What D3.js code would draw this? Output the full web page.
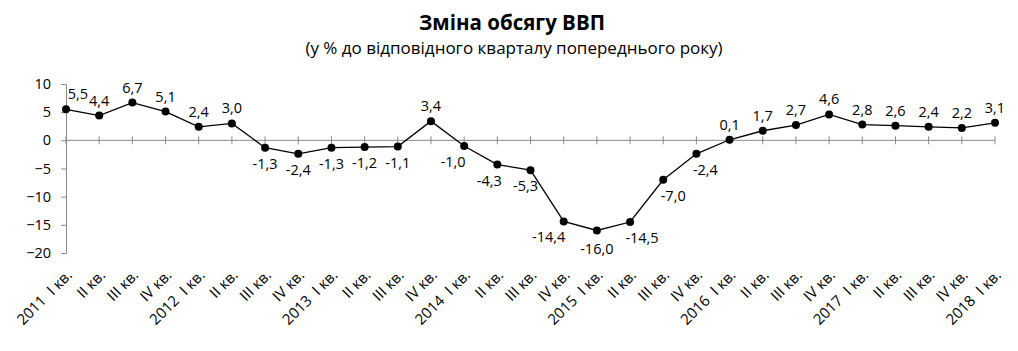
<!DOCTYPE html>
<html lang="uk">
<head>
<meta charset="UTF-8">
<script src="https://d3js.org/d3.v7.min.js"></script>
<style>
  body { margin: 0; background: #fff; }
  text { font-family: "Open Sans", sans-serif; fill: #000; }
  .cat { white-space: pre; }
</style>
</head>
<body>
<svg width="1018" height="351"></svg>
<script>
// quarters 2011 Q1 .. 2018 Q1
const quarters = ["2011  I кв.", "II кв.", "III кв.", "IV кв.",
  "2012  I кв.", "II кв.", "III кв.", "IV кв.",
  "2013  I кв.", "II кв.", "III кв.", "IV кв.",
  "2014  I кв.", "II кв.", "III кв.", "IV кв.",
  "2015  I кв.", "II кв.", "III кв.", "IV кв.",
  "2016  I кв.", "II кв.", "III кв.", "IV кв.",
  "2017  I кв.", "II кв.", "III кв.", "IV кв.",
  "2018  I кв."];
const gdpChange = [5.5, 4.4, 6.7, 5.1, 2.4, 3.0, -1.3, -2.4, -1.3, -1.2, -1.1, 3.4,
  -1.0, -4.3, -5.3, -14.4, -16.0, -14.5, -7.0, -2.4, 0.1, 1.7, 2.7, 4.6,
  2.8, 2.6, 2.4, 2.2, 3.1];
const yTicks = [10, 5, 0, -5, -10, -15, -20];

// small nudges [dx, dy] Excel applied to a few labels
const labelNudge = {0: [12, 0], 12: [-11, 0], 13: [-8, 0], 14: [-5, 0],
  15: [-15, 0], 16: [0, 3], 17: [12, 0], 18: [10, 0], 19: [9, 0]};

const svg = d3.select("svg");
const axisColor = "#898989";

const x = d3.scalePoint().domain(d3.range(quarters.length)).range([66, 995]);
const y = d3.scaleLinear().domain([-20, 10]).range([253, 84]);

// title
svg.append("text").attr("x", 512).attr("y", 30)
  .attr("text-anchor", "middle").attr("font-size", 20.5).attr("font-weight", "bold")
  .text("Зміна обсягу ВВП");
svg.append("text").attr("x", 514).attr("y", 54)
  .attr("text-anchor", "middle").attr("font-size", 17)
  .text("(у % до відповідного кварталу попереднього року)");

// y axis
const yAxis = svg.append("g").attr("transform", "translate(66,0)")
  .call(d3.axisLeft(y).tickValues(yTicks).tickSize(5).tickPadding(10));
yAxis.select(".domain").attr("stroke", axisColor);
yAxis.selectAll(".tick line").attr("stroke", axisColor);
yAxis.selectAll(".tick text").attr("font-size", 14.5).attr("font-family", "Open Sans, sans-serif");

// zero line with crossing tick marks
svg.append("line").attr("x1", x(0)).attr("x2", x(quarters.length - 1))
  .attr("y1", y(0)).attr("y2", y(0)).attr("stroke", axisColor);
svg.append("g").selectAll("line").data(d3.range(quarters.length)).join("line")
  .attr("x1", d => x(d)).attr("x2", d => x(d))
  .attr("y1", y(0) - 4).attr("y2", y(0) + 4).attr("stroke", axisColor);

// category labels
svg.append("g").selectAll("text").data(quarters).join("text")
  .attr("class", "cat")
  .attr("transform", (d, i) => `translate(${x(i) + 7},${276}) rotate(-45)`)
  .attr("text-anchor", "end").attr("font-size", 15)
  .text(d => d);

// line + markers
const line = d3.line().x((d, i) => x(i)).y(d => y(d));
svg.append("path").datum(gdpChange).attr("d", line)
  .attr("fill", "none").attr("stroke", "#000").attr("stroke-width", 1.3);
svg.append("g").selectAll("circle").data(gdpChange).join("circle")
  .attr("cx", (d, i) => x(i)).attr("cy", d => y(d)).attr("r", 4).attr("fill", "#000");

// value labels
const fmt = v => v.toFixed(1).replace(".", ",");
const nudge = i => labelNudge[i] || [0, 0];
svg.append("g").selectAll("text").data(gdpChange).join("text")
  .attr("x", (d, i) => x(i) + nudge(i)[0])
  .attr("y", (d, i) => (d >= 0 ? y(d) - 10 : y(d) + 21) + nudge(i)[1])
  .attr("text-anchor", "middle").attr("font-size", 14.5)
  .text(fmt);
</script>
</body>
</html>
